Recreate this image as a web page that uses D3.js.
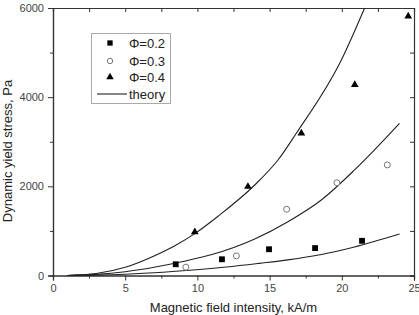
<!DOCTYPE html>
<html>
<head>
<meta charset="utf-8">
<script src="https://cdn.jsdelivr.net/npm/d3@7"></script>
<style>
  body { margin: 0; background: #fff; }
  svg { display: block; font-family: Arial, "Liberation Sans", sans-serif; }
  .tick text { fill: #444; font-size: 11px; }
  .domain, .tick line { stroke: #333; }
</style>
</head>
<body>
<svg width="419" height="315"></svg>
<script>
// measured points, H in kA/m, stress in Pa
var phi02 = [[8.5, 252], [11.7, 364], [14.96, 589], [18.15, 615], [21.4, 778]],
    phi03 = [[9.2, 187], [12.7, 440], [16.18, 1486], [19.66, 2080], [23.15, 2480]],
    phi04 = [[9.82, 975], [13.5, 1994], [17.2, 3192], [20.9, 4281], [24.6, 5816]];

// theory curves
var theory02 = [[1, 0], [3, 8], [5, 27], [7, 60], [9.7, 123], [12, 190], [14.3, 273],
                [16.27, 350], [18.58, 470], [20.88, 640], [24, 930]],
    theory03 = [[1, 0], [3, 25], [5, 85], [7, 185], [9, 315], [11, 470], [13.97, 820],
                [16.27, 1207], [18.58, 1694], [20.88, 2367], [24, 3414]],
    theory04 = [[1, 0], [3, 45], [5, 185], [7, 440], [8.5, 680], [9.82, 940], [11.43, 1330],
                [13.97, 2030], [15.58, 2590], [16.85, 3190], [19.97, 4834], [21.58, 6000]];

var xMajor = [0, 5, 10, 15, 20, 25],
    xMinor = [2.5, 7.5, 12.5, 17.5, 22.5],
    yMajor = [0, 2000, 4000, 6000],
    yMinor = [1000, 3000, 5000];

var legendItems = ["\u03A6=0.2", "\u03A6=0.3", "\u03A6=0.4", "theory"];

var svg = d3.select("svg");

var x = d3.scaleLinear().domain([0, 25]).range([53, 414]),
    y = d3.scaleLinear().domain([0, 6000]).range([275.5, 8]);

// axes: left/bottom ticks out, top/right ticks in
svg.append("g").attr("transform", "translate(0," + y(0) + ")")
    .call(d3.axisBottom(x).tickValues(xMajor).tickSize(5).tickPadding(4));
svg.append("g").attr("transform", "translate(0," + y(0) + ")")
    .call(d3.axisBottom(x).tickValues(xMinor).tickSize(3).tickFormat(""));
svg.append("g").attr("transform", "translate(0," + y(6000) + ")")
    .call(d3.axisTop(x).tickValues(xMajor.concat(xMinor)).tickSize(-4).tickFormat(""));

svg.append("g").attr("transform", "translate(" + x(0) + ",0)")
    .call(d3.axisLeft(y).tickValues(yMajor).tickSize(5).tickPadding(4).tickFormat(d3.format("d")));
svg.append("g").attr("transform", "translate(" + x(0) + ",0)")
    .call(d3.axisLeft(y).tickValues(yMinor).tickSize(3).tickFormat(""));
svg.append("g").attr("transform", "translate(" + x(25) + ",0)")
    .call(d3.axisRight(y).tickValues(yMajor.concat(yMinor)).tickSize(-4).tickFormat(""));

svg.selectAll(".domain").attr("stroke-width", 1.2);

// theory lines
var line = d3.line()
    .x(function(d) { return x(d[0]); })
    .y(function(d) { return y(d[1]); })
    .curve(d3.curveMonotoneX);

svg.append("g").selectAll("path")
    .data([theory02, theory03, theory04])
    .enter().append("path")
    .attr("d", line)
    .attr("fill", "none")
    .attr("stroke", "#222")
    .attr("stroke-width", 1.1);

// markers
svg.append("g").selectAll("path")
    .data(phi02)
    .enter().append("path")
    .attr("transform", function(d) { return "translate(" + x(d[0]) + "," + y(d[1]) + ")"; })
    .attr("d", d3.symbol().type(d3.symbolSquare).size(34))
    .attr("fill", "#000");

svg.append("g").selectAll("circle")
    .data(phi03)
    .enter().append("circle")
    .attr("cx", function(d) { return x(d[0]); })
    .attr("cy", function(d) { return y(d[1]); })
    .attr("r", 3)
    .attr("fill", "#fff")
    .attr("stroke", "#777");

svg.append("g").selectAll("path")
    .data(phi04)
    .enter().append("path")
    .attr("transform", function(d) { return "translate(" + x(d[0]) + "," + y(d[1]) + ")"; })
    .attr("d", d3.symbol().type(d3.symbolTriangle).size(26))
    .attr("fill", "#000");

// axis titles
svg.append("text")
    .attr("x", (x(0) + x(25)) / 2)
    .attr("y", 312)
    .attr("text-anchor", "middle")
    .attr("font-size", 13)
    .attr("fill", "#222")
    .text("Magnetic field intensity, kA/m");

svg.append("text")
    .attr("transform", "translate(12," + 151 + ") rotate(-90)")
    .attr("text-anchor", "middle")
    .attr("font-size", 13)
    .attr("fill", "#222")
    .text("Dynamic yield stress, Pa");

// legend
var legend = svg.append("g");
legend.append("rect")
    .attr("x", 91.5).attr("y", 33.5)
    .attr("width", 79).attr("height", 70)
    .attr("fill", "#fff")
    .attr("stroke", "#aaa");

var rows = [43, 61, 77, 94];
legend.selectAll("text")
    .data(legendItems)
    .enter().append("text")
    .attr("x", 129)
    .attr("y", function(d, i) { return rows[i] + 4.5; })
    .attr("font-size", 13)
    .attr("fill", "#222")
    .text(function(d) { return d; });

legend.append("path")
    .attr("transform", "translate(110," + rows[0] + ")")
    .attr("d", d3.symbol().type(d3.symbolSquare).size(28))
    .attr("fill", "#000");
legend.append("circle")
    .attr("cx", 110).attr("cy", rows[1]).attr("r", 2.7)
    .attr("fill", "#fff").attr("stroke", "#777");
legend.append("path")
    .attr("transform", "translate(110," + rows[2] + ")")
    .attr("d", d3.symbol().type(d3.symbolTriangle).size(24))
    .attr("fill", "#000");
legend.append("line")
    .attr("x1", 97).attr("x2", 127)
    .attr("y1", rows[3]).attr("y2", rows[3])
    .attr("stroke", "#222").attr("stroke-width", 1.1);
</script>
</body>
</html>
